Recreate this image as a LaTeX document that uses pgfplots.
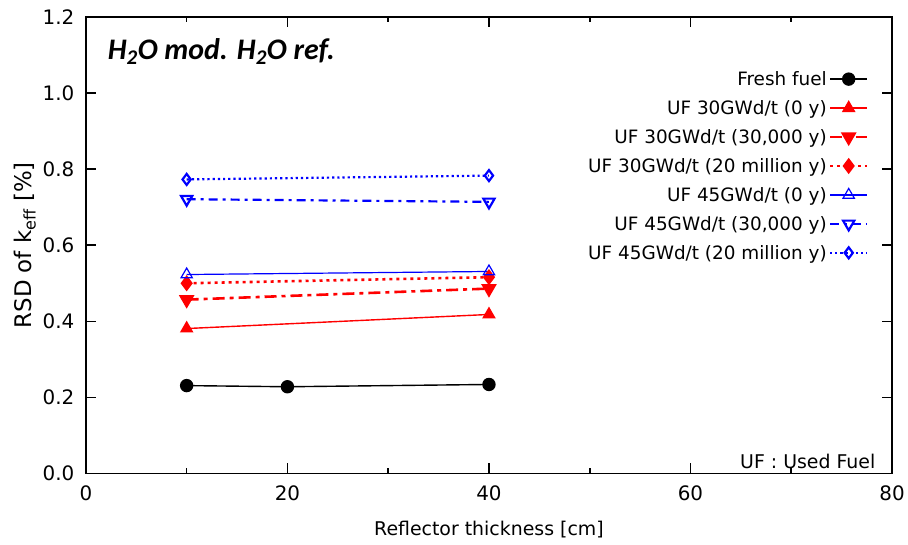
\documentclass[border=0pt]{standalone}
\usepackage{fontspec}
\setmainfont{DejaVu Sans}
\newfontfamily\legfont{DejaVu Sans}
\newfontfamily\titlefont{Carlito}
\usepackage{pgfplots}
\pgfplotsset{compat=1.18}
\begin{document}
\begin{tikzpicture}
\begin{axis}[
  scale only axis,
  width=807bp, height=457bp,
  xmin=0, xmax=80, ymin=0, ymax=1.2,
  xtick={0,20,...,80}, minor x tick num=1,
  ytick={0,0.2,...,1.2},
  yticklabel style={/pgf/number format/fixed,/pgf/number format/fixed zerofill,/pgf/number format/precision=1, xshift=-8bp},
  xticklabel style={yshift=-9bp},
  /pgf/number format/assume math mode=true,
  tick align=inside,
  major tick length=10bp, minor tick length=5bp,
  axis line style={line width=1.6bp},
  every tick/.style={line width=1.6bp, black},
  tick label style={font=\fontsize{20}{23}\selectfont},
  xlabel style={font=\fontsize{19}{22}\selectfont, yshift=-13bp},
  ylabel style={font=\fontsize{23}{26}\selectfont, yshift=0bp},
  xlabel={Reflector thickness [cm]},
  ylabel={RSD of k\textsubscript{eff} [\%]},
  legend style={draw=none, fill=none, at={(rel axis cs:0.975,0.89)}, anchor=north east,
    font=\legfont\fontsize{18.5}{21}\selectfont, row sep=9.5bp, legend cell align=right},
  legend plot pos=right,
  legend image code/.code={\draw[mark repeat=2,mark phase=2] plot coordinates {(0cm,0cm)(0.66cm,0cm)(1.32cm,0cm)};},
]
\addplot[black, line width=1.4bp, mark=*, mark size=6bp] coordinates {(10,0.231)(20,0.228)(40,0.234)};
\addlegendentry{Fresh fuel}
\addplot[red, line width=1.4bp, mark=triangle*, mark size=6.5bp, mark options={solid}] coordinates {(10,0.381)(40,0.418)};
\addlegendentry{UF 30GWd/t (0 y)}
\addplot[red, line width=2.6bp, dash pattern=on 12bp off 5bp on 4bp off 5bp, mark=triangle*, mark size=6.5bp, mark options={solid, rotate=180}] coordinates {(10,0.457)(40,0.486)};
\addlegendentry{UF 30GWd/t (30,000 y)}
\addplot[red, line width=2.6bp, dash pattern=on 3bp off 4bp, mark=diamond*, mark size=6bp, mark options={solid}] coordinates {(10,0.500)(40,0.516)};
\addlegendentry{UF 30GWd/t (20 million y)}
\addplot[blue, line width=1.2bp, mark=triangle, mark size=6.5bp, mark options={solid, fill=white}] coordinates {(10,0.523)(40,0.531)};
\addlegendentry{UF 45GWd/t (0 y)}
\addplot[blue, line width=2.2bp, dash pattern=on 9bp off 5bp on 3bp off 5bp, mark=triangle, mark size=6.5bp, mark options={solid, rotate=180, fill=white}] coordinates {(10,0.721)(40,0.714)};
\addlegendentry{UF 45GWd/t (30,000 y)}
\addplot[blue, line width=2.2bp, dash pattern=on 2.2bp off 3bp, mark=diamond, mark size=5.5bp, mark options={solid, fill=white}] coordinates {(10,0.773)(40,0.783)};
\addlegendentry{UF 45GWd/t (20 million y)}
\node[anchor=west, font=\titlefont\bfseries\itshape\fontsize{30}{34}\selectfont, inner sep=0pt] at (rel axis cs:0.027,0.925) {H\textsubscript{2}O mod. H\textsubscript{2}O ref.};
\node[anchor=south east, font=\fontsize{19}{22}\selectfont, inner sep=2bp] at (rel axis cs:0.982,0.005) {UF : Used Fuel};
\end{axis}
\path ([xshift=-86bp,yshift=-71bp]current axis.south west) rectangle ([xshift=15bp,yshift=17bp]current axis.north east);
\end{tikzpicture}
\end{document}
